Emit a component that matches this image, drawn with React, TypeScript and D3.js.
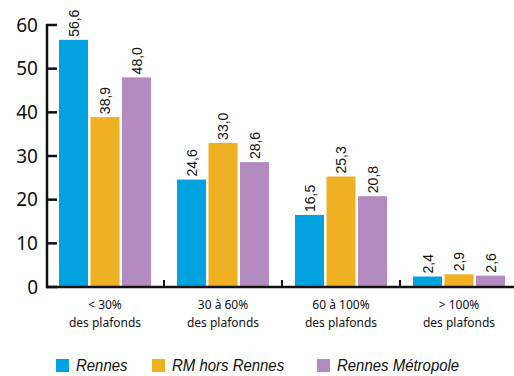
import React from "react";
import * as d3 from "d3";

const categories = ["< 30%|des plafonds", "30 à 60%|des plafonds", "60 à 100%|des plafonds", "> 100%|des plafonds"];
const seriesNames = ["Rennes", "RM hors Rennes", "Rennes Métropole"];
const rennes = [56.6, 24.6, 16.5, 2.4];
const rmHorsRennes = [38.9, 33.0, 25.3, 2.9];
const rennesMetropole = [48.0, 28.6, 20.8, 2.6];
const yTicks = [0, 10, 20, 30, 40, 50, 60];
const colors = ["#00a3df", "#efb022", "#b38bc0"];

const W = 514, H = 376;
const x0 = 46, x1 = 518, yTop = 25, yBot = 287;

export default function App() {
  const series = [rennes, rmHorsRennes, rennesMetropole];
  const x = d3.scaleBand<number>().domain(d3.range(categories.length)).range([x0, x1]).paddingInner(0).paddingOuter(0);
  const inner = d3.scaleBand<number>().domain(d3.range(series.length)).range([13, x.bandwidth() - 13]).paddingInner(0.08);
  const y = d3.scaleLinear().domain([0, 60]).range([yBot, yTop]);
  const fmt = (v: number) => d3.format(".1f")(v).replace(".", ",");
  const sans = "'Noto Sans', 'Open Sans', sans-serif";
  const narrow = "'Liberation Sans', Arial, sans-serif";
  const legendX = [56, 152, 317];

  return (
    <svg width={W} height={H} style={{ position: "absolute", left: 0, top: 0, background: "#fff" }}>
      {series.map((vals, s) =>
        vals.map((v, i) => {
          const bx = (x(i) as number) + (inner(s) as number);
          const bw = inner.bandwidth();
          return (
            <g key={`${s}-${i}`}>
              <rect x={bx} y={y(v)} width={bw} height={y(0) - y(v)} fill={colors[s]} />
              <text
                transform={`translate(${bx + bw / 2},${y(v) - 3}) rotate(-90)`}
                dy="0.36em"
                fontFamily={narrow}
                fontSize={14}
                fill="#111"
              >
                {fmt(v)}
              </text>
            </g>
          );
        })
      )}
      {/* y axis */}
      <line x1={47} x2={47} y1={yTop - 1} y2={yBot + 1} stroke="#111" strokeWidth={2.5} />
      {yTicks.map((t) => (
        <g key={t}>
          <line x1={46} x2={57} y1={y(t)} y2={y(t)} stroke="#111" strokeWidth={2.5} />
          <text x={38} y={y(t)} dy="0.35em" textAnchor="end" fontFamily={sans} fontSize={19} fill="#111">
            {t}
          </text>
        </g>
      ))}
      {/* x axis */}
      <line x1={46} x2={W} y1={yBot} y2={yBot} stroke="#111" strokeWidth={2.5} />
      {d3.range(1, categories.length).map((i) => (
        <line key={i} x1={x(i) as number} x2={x(i) as number} y1={yBot} y2={yBot - 7} stroke="#111" strokeWidth={2} />
      ))}
      {categories.map((c, i) => {
        const cx = (x(i) as number) + x.bandwidth() / 2;
        const [l1, l2] = c.split("|");
        return (
          <text key={i} textAnchor="middle" fontFamily={sans} fontSize={12} fill="#111">
            <tspan x={cx} y={309}>{l1}</tspan>
            <tspan x={cx} y={327}>{l2}</tspan>
          </text>
        );
      })}
      {/* legend */}
      {seriesNames.map((n, s) => (
        <g key={n}>
          <rect x={legendX[s]} y={359} width={13} height={13} fill={colors[s]} />
          <text
            transform={`translate(${legendX[s] + 20},371) scale(0.88,1)`}
            fontFamily={narrow}
            fontStyle="italic"
            fontSize={17}
            fill="#111"
          >
            {n}
          </text>
        </g>
      ))}
    </svg>
  );
}
